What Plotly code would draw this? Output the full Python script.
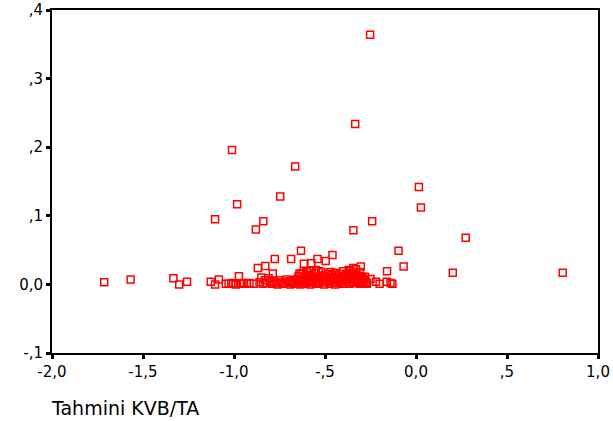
import plotly.graph_objects as go

# Sparse / outlying observations (x = Tahmini KVB/TA, y = value)
x_sparse = [-1.713, -1.568, -1.333, -1.301, -1.258, -1.128, -1.104, -1.083, -1.045, -1.030,
            -1.015, -1.005, -0.990, -0.973, -0.960, -0.945, -0.930, -0.915, -0.890,
            -1.011, -0.983, -1.104, -0.839, -0.880, -0.746, -0.664, -0.334, -0.252, 0.016,
            0.027, -0.241, -0.344, 0.273, 0.806, 0.202, -0.096, -0.068, -0.159, -0.632,
            -0.459, -0.776, -0.686, -0.541, -0.496, -0.616, -0.575, -0.828, -0.869, -0.787,
            -0.303, -0.25, -0.22, -0.20, -0.16, -0.14, -0.13, -0.27, -0.30, -0.31, -0.33,
            -0.36, -0.38, -0.31]
y_sparse = [0.003, 0.007, 0.009, 0.000, 0.004, 0.004, 0.000, 0.007, 0.001, 0.001,
            0.001, 0.002, 0.000, 0.012, 0.001, 0.002, 0.001, 0.002, 0.001,
            0.196, 0.117, 0.095, 0.092, 0.080, 0.128, 0.172, 0.234, 0.364, 0.142,
            0.112, 0.092, 0.079, 0.068, 0.017, 0.017, 0.049, 0.026, 0.019, 0.049,
            0.043, 0.037, 0.037, 0.037, 0.034, 0.030, 0.031, 0.027, 0.024, 0.016,
            0.026, 0.008, 0.004, 0.001, 0.004, 0.002, 0.001, 0.002, 0.001, 0.018, 0.022,
            0.020, 0.015, 0.010]

# Dense cluster near zero
x_dense = [-0.86, -0.85, -0.84, -0.83, -0.82, -0.81, -0.80, -0.79, -0.78, -0.77, -0.76, -0.75,
           -0.74, -0.73, -0.72, -0.71, -0.70, -0.695, -0.69, -0.68, -0.675, -0.67, -0.66,
           -0.655, -0.65, -0.645, -0.64, -0.635, -0.63, -0.625, -0.62, -0.615, -0.61, -0.605,
           -0.60, -0.595, -0.59, -0.585, -0.58, -0.575, -0.57, -0.565, -0.56, -0.555, -0.55,
           -0.545, -0.54, -0.535, -0.53, -0.525, -0.52, -0.515, -0.51, -0.505, -0.50, -0.495,
           -0.49, -0.485, -0.48, -0.475, -0.47, -0.465, -0.46, -0.455, -0.45, -0.445, -0.44,
           -0.435, -0.43, -0.425, -0.42, -0.415, -0.41, -0.405, -0.40, -0.395, -0.39, -0.385,
           -0.38, -0.375, -0.37, -0.365, -0.36, -0.355, -0.35, -0.345, -0.34, -0.335, -0.33,
           -0.325, -0.32, -0.315, -0.31, -0.305, -0.30, -0.295, -0.29, -0.285, -0.28, -0.275,
           -0.27, -0.60, -0.62, -0.58, -0.55, -0.40, -0.37, -0.345, -0.35, -0.44, -0.47, -0.52,
           -0.64]
y_dense = [0.003, 0.010, 0.001, 0.006, 0.002, 0.009, 0.004, 0.001, 0.005, 0.002, 0.000, 0.006,
           0.003, 0.001, 0.004, 0.007, 0.002, 0.005, 0.000, 0.003, 0.006, 0.001, 0.004,
           0.008, 0.002, 0.012, 0.005, 0.000, 0.015, 0.003, 0.008, 0.001, 0.011, 0.006,
           0.002, 0.014, 0.004, 0.009, 0.000, 0.012, 0.006, 0.003, 0.016, 0.008, 0.001,
           0.011, 0.005, 0.019, 0.002, 0.009, 0.013, 0.004, 0.007, 0.000, 0.012, 0.003,
           0.009, 0.015, 0.005, 0.001, 0.011, 0.007, 0.014, 0.003, 0.009, 0.000, 0.013,
           0.006, 0.010, 0.002, 0.015, 0.008, 0.004, 0.012, 0.001, 0.010, 0.006, 0.014,
           0.003, 0.008, 0.011, 0.001, 0.007, 0.013, 0.004, 0.009, 0.002, 0.011, 0.006,
           0.014, 0.003, 0.008, 0.001, 0.012, 0.005, 0.009, 0.002, 0.007, 0.011, 0.004,
           0.001, 0.018, 0.017, 0.020, 0.021, 0.019, 0.021, 0.024, 0.017, 0.017, 0.018, 0.018,
           0.016]

x_tick_vals = [-2.0, -1.5, -1.0, -0.5, 0.0, 0.5, 1.0]
x_tick_text = ["-2,0", "-1,5", "-1,0", "-,5", "0,0", ",5", "1,0"]
y_tick_vals = [-0.1, 0.0, 0.1, 0.2, 0.3, 0.4]
y_tick_text = ["-,1", "0,0", ",1", ",2", ",3", ",4"]
x_title = "Tahmini KVB/TA"

fig = go.Figure()
fig.add_trace(go.Scatter(
    x=x_sparse + x_dense, y=y_sparse + y_dense, mode="markers",
    marker=dict(symbol="square-open", size=7, color="#ff0000", line=dict(width=1.5)),
    showlegend=False, cliponaxis=False,
))

axis_font = dict(family="DejaVu Sans, Arial, sans-serif", size=15, color="black")
common = dict(showgrid=False, zeroline=False, showline=True, linecolor="black",
              linewidth=2, mirror=True, ticks="outside", ticklen=4, tickwidth=3,
              tickcolor="black", tickfont=axis_font, automargin=False)
fig.update_xaxes(range=[-2.0, 1.0], tickvals=x_tick_vals, ticktext=x_tick_text, **common)
fig.update_yaxes(range=[-0.1, 0.4], tickvals=y_tick_vals, ticktext=y_tick_text, **common)

fig.add_annotation(text=x_title, xref="paper", yref="paper", x=-0.005, y=-0.16,
                   xanchor="left", yanchor="middle", showarrow=False,
                   font=dict(family="DejaVu Sans, Arial, sans-serif", size=19, color="black"))

fig.update_layout(width=613, height=421, margin=dict(l=52, r=15, t=10, b=68),
                  plot_bgcolor="white", paper_bgcolor="white")

fig.write_html("out.html")
